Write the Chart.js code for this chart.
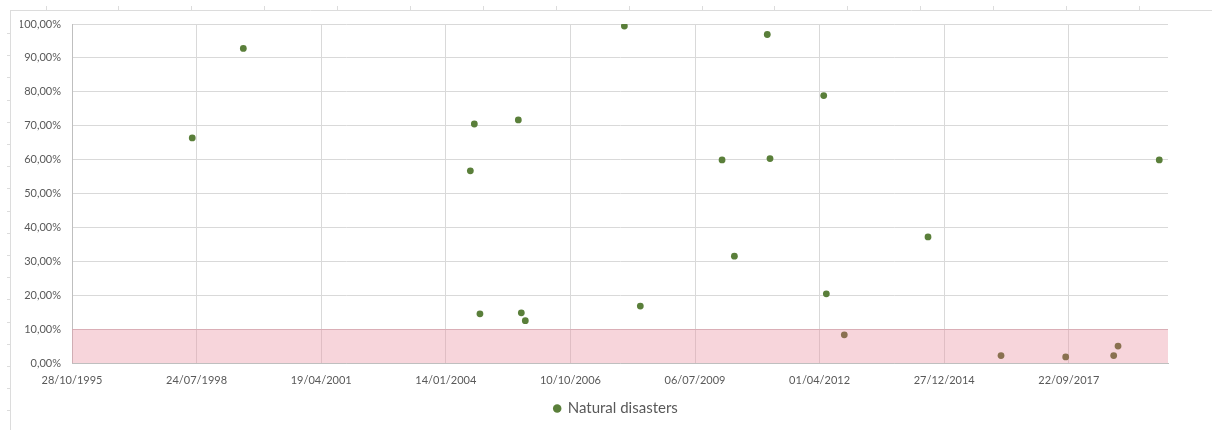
<!DOCTYPE html>
<html>
<head>
<meta charset="utf-8">
<title>Natural disasters</title>
<script src="https://cdn.jsdelivr.net/npm/chart.js@4.4.1/dist/chart.umd.min.js"></script>
<style>
    html, body { margin: 0; padding: 0; background: #fff; }
    #wrap { width: 1212px; height: 430px; position: relative; }
</style>
</head>
<body>
<div id="wrap"><canvas id="disasterChart"></canvas></div>
<script>
// Dates of the events and their share
const eventDates = [
    '1998-06-19', '1999-08-03', '2004-07-29', '2004-08-30', '2004-10-14',
    '2005-08-18', '2005-09-11', '2005-10-13', '2007-12-17', '2008-04-23',
    '2010-02-08', '2010-05-18', '2011-02-06', '2011-02-28', '2012-05-04',
    '2012-05-25', '2012-10-16', '2014-08-19', '2016-03-27', '2017-08-28',
    '2018-09-17', '2018-10-22', '2019-09-18'
];
const disasterShares = [
    0.664, 0.928, 0.567, 0.705, 0.145,
    0.717, 0.148, 0.125, 0.994, 0.168,
    0.599, 0.315, 0.969, 0.603, 0.789,
    0.204, 0.083, 0.372, 0.022, 0.018,
    0.022, 0.050, 0.599
];
const seriesName = 'Natural disasters';

// Axis settings (Excel date serials, 35000 = 28/10/1995)
const xMin = 35000;
const xMax = 43796;
const xStep = 1000;
const yTicks = [0, 0.1, 0.2, 0.3, 0.4, 0.5, 0.6, 0.7, 0.8, 0.9, 1.0];
const thresholdBand = [0, 0.1];

const excelEpoch = Date.UTC(1899, 11, 30);
const dayMs = 86400000;

function toSerial(iso) {
    const p = iso.split('-').map(Number);
    return Math.round((Date.UTC(p[0], p[1] - 1, p[2]) - excelEpoch) / dayMs);
}

function serialLabel(serial) {
    const d = new Date(excelEpoch + serial * dayMs);
    const dd = String(d.getUTCDate()).padStart(2, '0');
    const mm = String(d.getUTCMonth() + 1).padStart(2, '0');
    return dd + '/' + mm + '/' + d.getUTCFullYear();
}

const points = eventDates.map((d, i) => ({ x: toSerial(d), y: disasterShares[i] }));

const xTicks = [];
for (let v = xMin; v <= xMax; v += xStep) xTicks.push(v);

const green = '#5a7f3a';
const brown = '#8a7150';
const labelColor = '#595959';
const gridColor = '#d9d9d9';

// Pink band for the 0-10% zone
const bandPlugin = {
    id: 'band',
    beforeDatasetsDraw(chart) {
        const { ctx, chartArea, scales } = chart;
        const yTop = scales.y.getPixelForValue(thresholdBand[1]);
        const yBot = scales.y.getPixelForValue(thresholdBand[0]);
        ctx.save();
        ctx.fillStyle = 'rgba(235,150,165,0.4)';
        ctx.fillRect(chartArea.left, yTop, chartArea.right - chartArea.left, yBot - yTop);
        ctx.strokeStyle = 'rgba(215,165,175,0.7)';
        ctx.lineWidth = 1;
        ctx.beginPath();
        ctx.moveTo(chartArea.left, Math.round(yTop) + 0.5);
        ctx.lineTo(chartArea.right, Math.round(yTop) + 0.5);
        ctx.stroke();
        ctx.restore();
    }
};

// Faint outer frame seen around the chart
const framePlugin = {
    id: 'frame',
    beforeDraw(chart) {
        const { ctx, width, height } = chart;
        ctx.save();
        ctx.strokeStyle = '#dcdcdc';
        ctx.lineWidth = 1;
        ctx.beginPath();
        ctx.moveTo(10, 10.5);
        ctx.lineTo(width, 10.5);
        ctx.moveTo(10.5, 10);
        ctx.lineTo(10.5, height);
        for (let x = 45.5; x < width; x += 72.9) {
            ctx.moveTo(Math.round(x) + 0.5, 6);
            ctx.lineTo(Math.round(x) + 0.5, 10);
        }
        for (let y = 33; y < height; y += 22.2) {
            ctx.moveTo(7, Math.round(y) + 0.5);
            ctx.lineTo(10, Math.round(y) + 0.5);
        }
        ctx.stroke();
        ctx.restore();
    }
};

const ctx = document.getElementById('disasterChart').getContext('2d');
const disasterChart = new Chart(ctx, {
    type: 'scatter',
    data: {
        datasets: [{
            label: seriesName,
            data: points,
            pointRadius: 3.4,
            pointHoverRadius: 3.4,
            pointBorderWidth: 0,
            pointBackgroundColor: (c) => (c.raw && c.raw.y < thresholdBand[1] ? brown : green),
            borderColor: green,
            backgroundColor: green
        }]
    },
    options: {
        responsive: true,
        maintainAspectRatio: false,
        animation: false,
        layout: {
            padding: { top: 24, right: 0, left: 20, bottom: 4 }
        },
        plugins: {
            tooltip: { enabled: false },
            legend: {
                display: true,
                position: 'bottom',
                labels: {
                    color: labelColor,
                    font: { family: 'Lato', size: 15 },
                    usePointStyle: true,
                    pointStyle: 'circle',
                    boxWidth: 6,
                    boxHeight: 6,
                    padding: 9,
                    generateLabels: () => [{
                        text: seriesName,
                        fillStyle: green,
                        strokeStyle: green,
                        lineWidth: 0,
                        pointStyle: 'circle',
                        fontColor: labelColor
                    }]
                }
            }
        },
        scales: {
            x: {
                type: 'linear',
                min: xMin,
                max: xMax,
                afterBuildTicks: (axis) => {
                    axis.ticks = xTicks.map(v => ({ value: v }));
                },
                afterFit: (axis) => { axis.height = 29; },
                ticks: {
                    color: labelColor,
                    font: { family: 'Lato', size: 11 },
                    padding: 11,
                    maxRotation: 0,
                    autoSkip: false,
                    callback: (v) => serialLabel(v)
                },
                grid: { color: gridColor, drawTicks: false },
                border: { color: '#bfbfbf' }
            },
            y: {
                min: 0,
                max: 1,
                afterBuildTicks: (axis) => {
                    axis.ticks = yTicks.map(v => ({ value: v }));
                },
                afterFit: (axis) => { axis.width = 52; },
                ticks: {
                    color: labelColor,
                    font: { family: 'Lato', size: 11 },
                    padding: 11,
                    callback: (v) => (v * 100).toFixed(2).replace('.', ',') + '%'
                },
                grid: { color: gridColor, drawTicks: false },
                border: { color: '#bfbfbf' }
            },
            // empty right-hand spacer so the plot stops where the reference does
            spacer: {
                type: 'linear',
                position: 'right',
                display: true,
                afterFit: (axis) => { axis.width = 44; },
                ticks: { display: false },
                grid: { display: false },
                border: { display: false }
            }
        }
    },
    plugins: [framePlugin, bandPlugin]
});
</script>
</body>
</html>
